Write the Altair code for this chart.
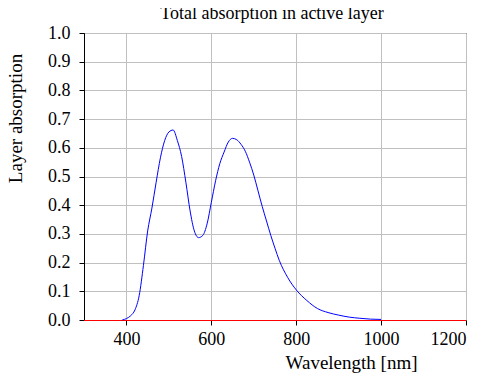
import altair as alt
import pandas as pd

wavelength = [390, 400, 410, 420, 430, 440, 450, 460, 470, 480, 490, 500, 510, 520,
              530, 540, 550, 560, 570, 580, 590, 600, 610, 620, 630, 640, 650, 660,
              670, 680, 690, 700, 710, 720, 730, 740, 750, 760, 780, 800, 825, 850,
              875, 900, 925, 950, 975, 1000]
absorption = [0.0, 0.005, 0.015, 0.035, 0.085, 0.19, 0.31, 0.39, 0.48, 0.565, 0.625,
              0.655, 0.662, 0.625, 0.57, 0.48, 0.38, 0.31, 0.287, 0.295, 0.335, 0.41,
              0.485, 0.545, 0.585, 0.62, 0.633, 0.628, 0.612, 0.588, 0.55, 0.505,
              0.45, 0.395, 0.345, 0.295, 0.25, 0.208, 0.148, 0.105, 0.068, 0.04,
              0.026, 0.017, 0.01, 0.006, 0.003, 0.002]

x_domain = [300, 1200]
x_ticks = [400, 600, 800, 1000, 1200]
y_ticks = [0.0, 0.1, 0.2, 0.3, 0.4, 0.5, 0.6, 0.7, 0.8, 0.9, 1.0]
baseline_x = [300, 1200]
baseline_y = [0, 0]

df = pd.DataFrame({"wl": wavelength, "abs": absorption})
base_df = pd.DataFrame({"wl": baseline_x, "abs": baseline_y})

FONT = "Liberation Serif"

x_axis = alt.Axis(title="Wavelength [nm]", values=x_ticks, format="d",
                  titleX=267, titleY=48.5, titleBaseline="alphabetic",
                  labelPadding=5, labelFont=FONT, labelFontSize=18,
                  labelFontWeight="normal", labelOverlap=False, domain=False)
y_axis = alt.Axis(title="Layer absorption", format=".1f",
                  values=y_ticks, labelOverlap=False,
                  labelFont=FONT, labelFontSize=18, labelFontWeight="normal",
                  titleX=-59, titleY=85, labelPadding=9)
x_scale = alt.Scale(domain=x_domain, nice=False)
y_scale = alt.Scale(domain=[0, 1], nice=False)

rule = alt.Chart(base_df).mark_line(color="#ff0000", strokeWidth=1, yOffset=0.5).encode(
    x=alt.X("wl:Q", scale=x_scale, axis=x_axis),
    y=alt.Y("abs:Q", scale=y_scale, axis=y_axis))
line = alt.Chart(df).mark_line(color="#0000ff", strokeWidth=1, interpolate="monotone").encode(
    x=alt.X("wl:Q", scale=x_scale, axis=x_axis),
    y=alt.Y("abs:Q", scale=y_scale, axis=y_axis))

chart = alt.layer(rule, line).properties(
    width=382, height=287,
    title=alt.TitleParams("Total absorption in active layer", font=FONT, fontSize=18,
                          fontWeight="normal", offset=1, dx=-3, color="black",
                          frame="group"),
    autosize=alt.AutoSizeParams(type="none"),
    padding={"left": 76, "top": 25, "right": 21, "bottom": 62},
).configure(
    style={"guide-label": {"font": FONT, "fontSize": 18}},
).configure_axis(
    labelFont=FONT, titleFont=FONT, labelFontSize=18, titleFontSize=19,
    titleFontWeight="normal", labelColor="black", titleColor="black",
    gridColor="#c0c0c0", gridWidth=1, domainColor="black", tickColor="black",
    tickSize=5, domainWidth=1,
).configure_view(stroke="black", strokeWidth=1)

chart.save("out.html", embed_options={"renderer": "svg", "actions": False})
